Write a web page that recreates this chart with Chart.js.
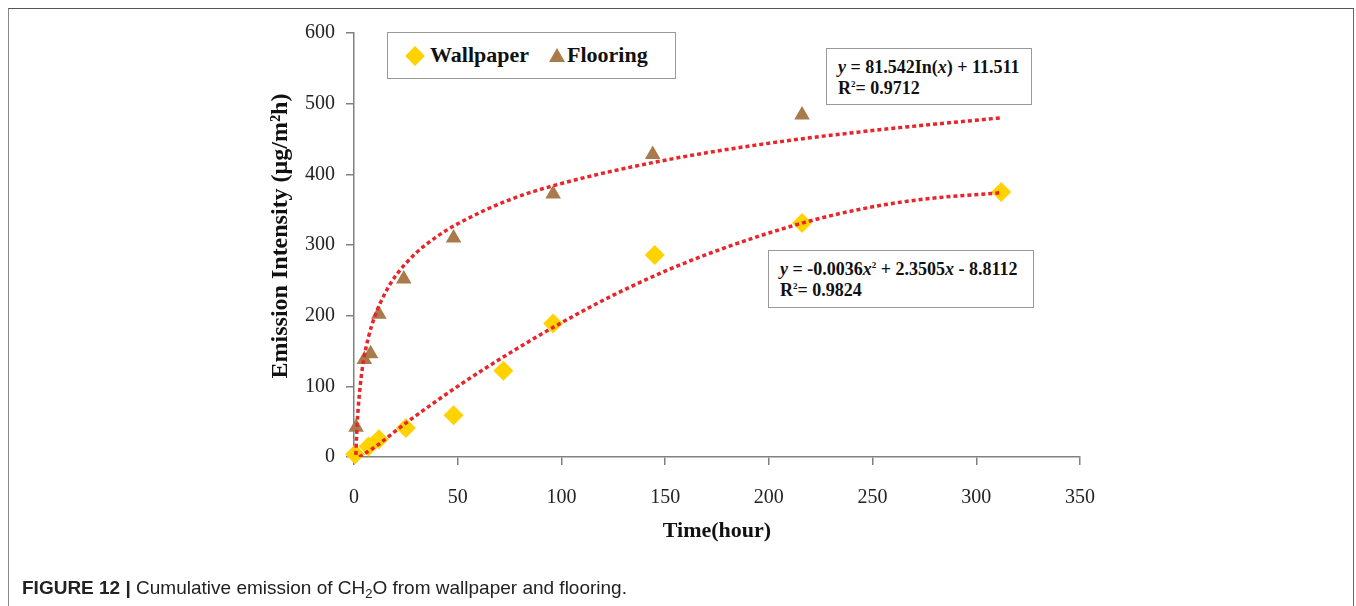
<!DOCTYPE html>
<html>
<head>
<meta charset="utf-8">
<script src="https://cdn.jsdelivr.net/npm/chart.js@4"></script>
<style>
  body { margin:0; background:#fff; }
  #wrap { position:relative; width:1356px; height:606px; overflow:hidden; }
  #frame { position:absolute; left:8px; top:8px; width:1344px; height:620px;
           border-top:1.5px solid #555; border-left:1.5px solid #888; border-right:1.5px solid #666; }
  canvas { position:absolute; left:0; top:0; }
  .box { position:absolute; background:#fff; border:1px solid #999; font-family:"Liberation Serif",serif; font-weight:bold; color:#111; }
  #legend { left:387px; top:32px; width:287px; height:45px; font-size:22px; }
  #legend span { position:absolute; top:9px; }
  .dia { position:absolute; width:14px; height:14px; background:#FFD200; transform:rotate(45deg); }
  .tri { position:absolute; width:0; height:0; border-left:8px solid transparent; border-right:8px solid transparent; border-bottom:14px solid #A97B4C; }
  .eq { font-size:18px; line-height:21px; padding:8px 0 0 11px; box-sizing:border-box; }
  .eq sup { font-size:9px; vertical-align:7px; line-height:0; }
  #caption { position:absolute; left:22px; top:577px; font-family:"Liberation Sans",sans-serif; font-size:19px; color:#222; white-space:nowrap; }
  #caption sub { font-size:13px; vertical-align:-4px; line-height:0; }
</style>
</head>
<body>
<div id="wrap">
  <div id="frame"></div>
  <canvas id="c" width="1356" height="606"></canvas>
  <div id="legend" class="box">
    <div class="dia" style="left:20px;top:16px"></div><span style="left:42px">Wallpaper</span>
    <div class="tri" style="left:161px;top:15px"></div><span style="left:179px">Flooring</span>
  </div>
  <div class="box eq" style="left:826px;top:48px;width:206px;height:57px">
    <i>y</i> = 81.542In(<i>x</i>) + 11.511<br>R<sup>2</sup>= 0.9712
  </div>
  <div class="box eq" style="left:768px;top:250px;width:266px;height:58px">
    <i>y</i> = -0.0036<i>x</i><sup>2</sup> + 2.3505<i>x</i> - 8.8112<br>R<sup>2</sup>= 0.9824
  </div>
  <div id="caption"><b>FIGURE 12 |</b> Cumulative emission of CH<sub>2</sub>O from wallpaper and flooring.</div>
</div>
<script>
// measured points
const wallpaperHours = [0.5, 7, 12, 25, 48, 72, 96, 145, 216, 312]
const wallpaperValues = [4, 15, 25, 41, 59, 122, 189, 286, 331, 375]
const flooringHours = [1, 5, 8, 12, 24, 48, 96, 144, 216]
const flooringValues = [42, 138, 146, 202, 252, 310, 372, 428, 484]

// trend lines
const floorTrendHours = [0.9, 1.2, 1.5, 2, 3, 4, 5, 7, 10, 15, 20, 30, 40, 50, 75, 100, 150, 200, 250, 312]
const floorTrendValues = [3, 26, 45, 68, 101, 125, 143, 170, 199, 232, 256, 289, 312, 330, 364, 387, 420, 444, 462, 480]
const wallTrendHours = [2.5, 10, 25, 50, 75, 100, 125, 150, 175, 200, 225, 250, 275, 312]
const wallTrendValues = [0, 14, 48, 100, 147, 190, 229, 263, 292, 317, 338, 354, 365, 374]

const xTicks = [0, 50, 100, 150, 200, 250, 300, 350]
const yTicks = [0, 100, 200, 300, 400, 500, 600]

const pts = (xs, ys) => xs.map((x, i) => ({ x: x, y: ys[i] }))

const axisGray = '#808080'
const tickFont = { family: 'Liberation Serif', size: 20 }
const titleFont = { family: 'Liberation Serif', size: 22, weight: 'bold' }

new Chart(document.getElementById('c'), {
  type: 'scatter',
  data: {
    datasets: [
      { label: 'Wallpaper trend', data: pts(wallTrendHours, wallTrendValues), showLine: true,
        borderColor: '#E8252B', borderWidth: 3.5, borderDash: [4, 3], pointRadius: 0,
        cubicInterpolationMode: 'monotone', order: 0 },
      { label: 'Flooring trend', data: pts(floorTrendHours, floorTrendValues), showLine: true,
        borderColor: '#E8252B', borderWidth: 3.5, borderDash: [4, 3], pointRadius: 0,
        cubicInterpolationMode: 'monotone', order: 0 },
      { label: 'Wallpaper', data: pts(wallpaperHours, wallpaperValues), pointStyle: 'rectRot',
        pointRadius: 10, backgroundColor: '#FFD200', borderColor: '#FFD200', borderWidth: 0,
        clip: false, order: 1 },
      { label: 'Flooring', data: pts(flooringHours, flooringValues), pointStyle: 'triangle',
        pointRadius: 9, backgroundColor: '#A97B4C', borderColor: '#A97B4C', borderWidth: 0,
        clip: false, order: 1 },
    ]
  },
  options: {
    responsive: false,
    animation: false,
    devicePixelRatio: 1,
    layout: { padding: { left: 262, right: 276, top: 33, bottom: 57 } },
    plugins: { legend: { display: false }, tooltip: { enabled: false } },
    scales: {
      x: {
        type: 'linear', min: 0, max: 350,
        afterBuildTicks: s => { s.ticks = xTicks.map(v => ({ value: v })) },
        afterFit: s => { s.height = 92 },
        ticks: { padding: 21, color: '#222', font: tickFont },
        grid: { drawOnChartArea: false, tickLength: 8, tickColor: axisGray, lineWidth: 1.5 },
        border: { color: axisGray, width: 1.5 },
        title: { display: true, text: 'Time(hour)', color: '#111', font: titleFont }
      },
      y: {
        type: 'linear', min: 0, max: 600,
        afterBuildTicks: s => { s.ticks = yTicks.map(v => ({ value: v })) },
        afterFit: s => { s.width = 92 },
        ticks: { padding: 11, color: '#222', font: tickFont },
        grid: { drawOnChartArea: false, tickLength: 8, tickColor: axisGray, lineWidth: 1.5 },
        border: { color: axisGray, width: 1.5 },
        title: { display: true, text: '   Emission Intensity (μg/m²h)', color: '#111',
                 font: { family: 'Liberation Serif', size: 24, weight: 'bold' } }
      }
    }
  }
})
</script>
</body>
</html>
